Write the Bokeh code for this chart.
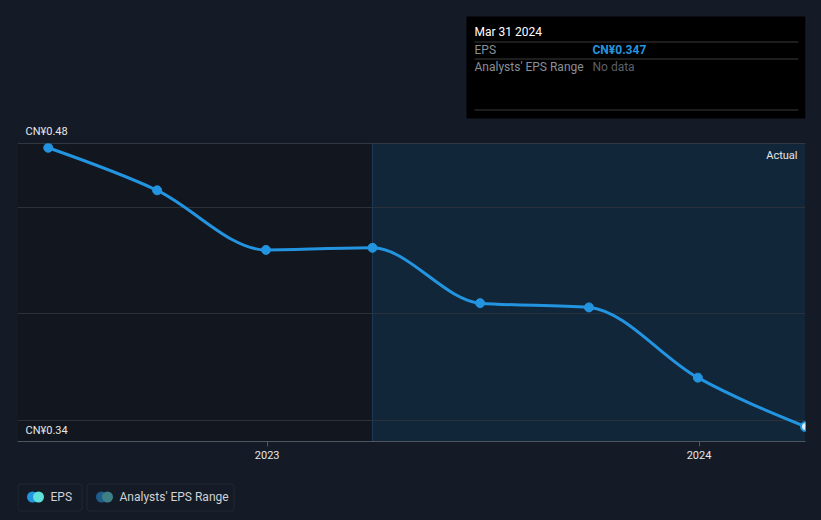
import numpy as np
import pandas as pd
from bokeh.plotting import figure
from bokeh.models import (Range1d, FixedTicker, DatetimeTickFormatter, BoxAnnotation,
                          Span, Label)
from bokeh.layouts import column
from bokeh.core.properties import value
from bokeh.embed import file_html
from bokeh.resources import INLINE

# ---------------- data ----------------
dates = ["2022-06-30", "2022-09-30", "2022-12-31", "2023-03-31",
         "2023-06-30", "2023-09-30", "2023-12-31", "2024-03-31"]
eps = [0.478, 0.458, 0.430, 0.431, 0.405, 0.403, 0.370, 0.347]
y_min, y_max = 0.34, 0.48
y_grid = [0.35, 0.40, 0.45]
x_start, x_end = "2022-06-04", "2024-03-31"
x_tick_dates = ["2023-01-01", "2024-01-01"]
actual_start = "2023-03-31"
currency = "CN¥"
legend_items = ["EPS", "Analysts' EPS Range"]

# ---------------- style ----------------
PAGE = "#151b26"
FRAME = "#12161e"
SHADE = "#12263a"
BLUE = "#2394df"
FONT = "Roboto"
FL, FR = 17, 805  # frame left/right on the page (shared by all stacked figures)


def ms(d):
    return (pd.Timestamp(d) - pd.Timestamp("1970-01-01")) // pd.Timedelta("1ms")


xs = np.array([ms(d) for d in dates], dtype=float)
ys = np.array(eps, dtype=float)


# monotone-x cubic (d3 curveMonotoneX) control points
def sign(v):
    return -1.0 if v < 0 else 1.0


n = len(xs)
t = np.zeros(n)
for i in range(1, n - 1):
    h0 = xs[i] - xs[i - 1]
    h1 = xs[i + 1] - xs[i]
    s0 = (ys[i] - ys[i - 1]) / h0
    s1 = (ys[i + 1] - ys[i]) / h1
    p_ = (s0 * h1 + s1 * h0) / (h0 + h1)
    t[i] = (sign(s0) + sign(s1)) * min(abs(s0), abs(s1), 0.5 * abs(p_))
h = xs[1] - xs[0]
t[0] = (3 * (ys[1] - ys[0]) / h - t[1]) / 2
h = xs[-1] - xs[-2]
t[-1] = (3 * (ys[-1] - ys[-2]) / h - t[-2]) / 2
dx = xs[1:] - xs[:-1]
cx0 = xs[:-1] + dx / 3
cy0 = ys[:-1] + dx / 3 * t[:-1]
cx1 = xs[1:] - dx / 3
cy1 = ys[1:] - dx / 3 * t[1:]

TOP_H = 140


def deco_fig(h):
    f = figure(width=821, height=h, output_backend="svg", toolbar_location=None,
               x_range=Range1d(FL, FR), y_range=Range1d(h, 0),
               min_border_left=FL, min_border_right=821 - FR,
               min_border_top=0, min_border_bottom=0)
    f.axis.visible = False
    f.grid.visible = False
    f.outline_line_color = None
    f.background_fill_color = PAGE
    f.border_fill_color = PAGE
    return f


# ---------------- top (tooltip) ----------------
top = deco_fig(TOP_H)
top.quad(left=466, right=805, top=16, bottom=118, fill_color="#000000", line_color=None)
top.segment(x0=[474, 474, 474], y0=[41.5, 58.5, 109.5], x1=[798, 798, 798],
            y1=[41.5, 58.5, 109.5], line_color="#3a3a3a", line_width=1)
last_date = pd.Timestamp(dates[-1])
top.text(x=[474], y=[31], text=[f"{last_date.strftime('%b')} {last_date.day} {last_date.year}"],
         text_color="#ffffff", text_font=value(FONT), text_font_size="12px",
         text_baseline="middle")
top.text(x=[474, 474], y=[49.5, 66.5], text=[legend_items[0], legend_items[1]],
         text_color="#8a8f96", text_font=value(FONT), text_font_size="12px",
         text_baseline="middle")
top.text(x=[592], y=[49.5], text=[f"{currency}{eps[-1]:.3f}"], text_color=BLUE,
         text_font=value(FONT), text_font_size="12px", text_font_style="bold",
         text_baseline="middle")
top.text(x=[592], y=[66.5], text=["No data"], text_color="#5c6066",
         text_font=value(FONT), text_font_size="12px", text_baseline="middle")
# y-axis maximum label (sits just above the chart frame)
top.text(x=[25], y=[130.5], text=[f"{currency}{y_max:.2f}"], text_color="#e6e6e6",
         text_font=value(FONT), text_font_size="11px", text_baseline="middle")

# ---------------- main chart ----------------
p = figure(width=821, height=470 - TOP_H, output_backend="svg", toolbar_location=None,
           x_axis_type="datetime",
           x_range=Range1d(ms(x_start), ms(x_end)), y_range=Range1d(y_min, y_max),
           min_border_left=FL, min_border_right=821 - FR, min_border_top=143 - TOP_H,
           min_border_bottom=29)
p.background_fill_color = FRAME
p.border_fill_color = PAGE
p.outline_line_color = None
p.yaxis.visible = False
p.xgrid.visible = False
p.ygrid.ticker = FixedTicker(ticks=y_grid)
p.ygrid.grid_line_color = "#2a313b"
p.ygrid.grid_line_width = 1

p.add_layout(BoxAnnotation(left=ms(actual_start), fill_color=SHADE, fill_alpha=1,
                           line_color=None, level="image"))
p.add_layout(Span(location=ms(actual_start), dimension="height", line_color="#1d3a56",
                  line_width=1, level="underlay"))
p.add_layout(Span(location=y_max, dimension="width", line_color="#50565e",
                  line_width=1, level="underlay"))

p.xaxis.ticker = FixedTicker(ticks=[ms(d) for d in x_tick_dates])
p.xaxis.formatter = DatetimeTickFormatter(years="%Y", months="%Y", days="%Y",
                                          hours="%Y", context=None)
p.xaxis.axis_line_color = "#50565e"
p.xaxis.major_tick_line_color = "#50565e"
p.xaxis.major_tick_out = 5
p.xaxis.major_tick_in = 0
p.xaxis.minor_tick_line_color = None
p.xaxis.major_label_text_color = "#e6e6e6"
p.xaxis.major_label_text_font = FONT
p.xaxis.major_label_text_font_size = "11px"
p.xaxis.major_label_standoff = 4

p.bezier(x0=xs[:-1], y0=ys[:-1], x1=xs[1:], y1=ys[1:], cx0=cx0, cy0=cy0,
         cx1=cx1, cy1=cy1, line_color=BLUE, line_width=3)
p.scatter(xs[:-1], ys[:-1], size=9, fill_color=BLUE, line_color=BLUE)
p.scatter(xs[-1:], ys[-1:], size=9, fill_color="#d8eefc", line_color=BLUE, line_width=2)

p.add_layout(Label(x=8, x_units="screen", y=y_min, text=f"{currency}{y_min:.2f}",
                   text_baseline="bottom", y_offset=5, text_color="#e6e6e6",
                   text_font=FONT, text_font_size="11px"))
p.add_layout(Label(x=ms(x_end), x_offset=-8, y=y_max, y_offset=-5, text="Actual",
                   text_align="right", text_baseline="top", text_color="#e6e6e6",
                   text_font=FONT, text_font_size="11px"))

# ---------------- legend ----------------
lg = deco_fig(50)
lg.add_layout(BoxAnnotation(left=17.5, right=81.5, top=13.5, bottom=40.5, fill_color=PAGE,
                            fill_alpha=1, line_color="#444a53", line_width=1,
                            border_radius=3, level="underlay"))
lg.add_layout(BoxAnnotation(left=86.5, right=233.5, top=13.5, bottom=40.5, fill_color=PAGE,
                            fill_alpha=1, line_color="#444a53", line_width=1,
                            border_radius=3, level="underlay"))
lg.scatter([32, 101], [26.5, 26.5], size=11, fill_color=[BLUE, "#1d5d8c"], line_color=None)
lg.scatter([38, 107], [26.5, 26.5], size=11, fill_color=["#5fe0d8", "#3d7f84"], line_color=None)
lg.text(x=[50, 119], y=[26.5, 26.5], text=legend_items, text_color="#cfd2d6",
        text_font=value(FONT), text_font_size="12px", text_baseline="middle")

layout = column(top, p, lg, spacing=0)
layout.styles = {"background-color": PAGE}
open("out.html", "w").write(file_html(layout, INLINE))
